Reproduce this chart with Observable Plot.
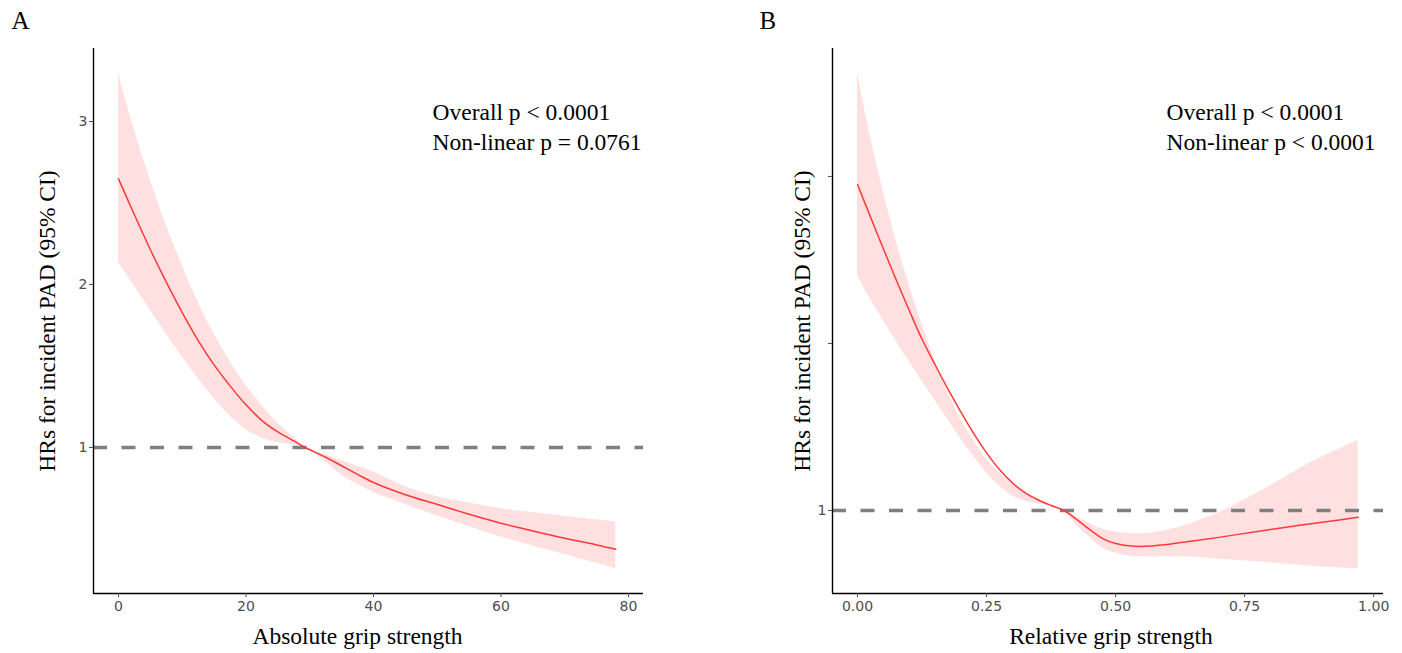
<!DOCTYPE html>
<html><head><meta charset="utf-8">
<script src="https://cdn.jsdelivr.net/npm/d3@7"></script>
<script src="https://cdn.jsdelivr.net/npm/@observablehq/plot@0.6"></script>
<style>
body{margin:0;background:#fff;}
#wrap{display:flex;width:1402px;height:653px;overflow:hidden;}
</style></head><body><div id="wrap"></div>
<script>
// Panel A: absolute grip strength
const absX  = [0,2.5,5,7.5,10,12.5,15,17.5,20,22.5,25,27.5,29.3,32.5,35,37.5,40,45,50,55,60,65,70,75,78];
const absHR = [2.648,2.428,2.213,2.014,1.827,1.656,1.507,1.378,1.262,1.165,1.095,1.04,1.0,0.94,0.888,0.835,0.785,0.71,0.65,0.59,0.535,0.488,0.443,0.402,0.375];
const absHi = [3.293,2.947,2.640,2.361,2.115,1.889,1.694,1.528,1.380,1.258,1.150,1.062,1.0,0.955,0.918,0.885,0.849,0.76,0.697,0.66,0.624,0.601,0.578,0.556,0.542];
const absLo = [2.137,1.989,1.842,1.695,1.557,1.423,1.301,1.193,1.110,1.058,1.030,1.016,1.0,0.912,0.83,0.775,0.726,0.65,0.58,0.515,0.45,0.396,0.343,0.289,0.256];
const absTicksX = [0,20,40,60,80];
const absTicksY = [1,2,3];
const absTickLabelsY = ["1","2","3"];

// Panel B: relative grip strength
const relX  = [0,0.025,0.05,0.075,0.1,0.125,0.15,0.175,0.2,0.225,0.25,0.275,0.3,0.325,0.35,0.375,0.4,0.425,0.45,0.475,0.5,0.525,0.55,0.6,0.65,0.7,0.75,0.8,0.85,0.9,0.97];
const relHR = [2.952,2.758,2.567,2.38,2.199,2.025,1.874,1.728,1.591,1.462,1.345,1.245,1.165,1.105,1.063,1.03,1.0,0.945,0.885,0.832,0.802,0.789,0.785,0.797,0.817,0.839,0.863,0.886,0.909,0.929,0.960];
const relHi = [3.615,3.238,2.909,2.614,2.351,2.116,1.898,1.71,1.544,1.419,1.304,1.227,1.154,1.11,1.067,1.034,1.0,0.961,0.922,0.887,0.871,0.862,0.86,0.882,0.927,0.986,1.064,1.148,1.24,1.32,1.419];
const relLo = [2.407,2.264,2.138,2.013,1.892,1.776,1.66,1.543,1.43,1.324,1.224,1.147,1.087,1.055,1.041,1.025,0.995,0.91,0.838,0.775,0.744,0.728,0.722,0.723,0.72,0.709,0.698,0.686,0.673,0.662,0.651];
const relTicksX = [0,0.25,0.5,0.75,1];
const relTicksY = [1,2,3];
const relTickLabelsY = ["1","",""];

const refHR = 1;
const yTitle = "HRs for incident PAD (95% CI)";
const serif = "'Liberation Serif','Times New Roman',serif";
const sans = "'DejaVu Sans','Liberation Sans',sans-serif";

function panel(o) {
  const data = o.xs.map((x, i) => ({x, hr: o.hr[i], lo: o.lo[i], hi: o.hi[i]}));
  const labelMap = new Map(o.yTicks.map((t, i) => [t, o.yLabels[i]]));
  return Plot.plot({
    width: 701, height: 653,
    marginLeft: o.ml, marginRight: o.mr, marginTop: 48, marginBottom: 60,
    style: {fontFamily: sans, fontSize: "14px", background: "#fff", overflow: "visible"},
    x: {domain: o.xDomain},
    y: {domain: o.yDomain},
    marks: [
      Plot.areaY(data, {x: "x", y1: "lo", y2: "hi", fill: "#ffe0e0", curve: "catmull-rom"}),
      Plot.ruleY([refHR], {stroke: "#7f7f7f", strokeWidth: 3.5, strokeDasharray: "14,14.5"}),
      Plot.line(data, {x: "x", y: "hr", stroke: "#ff3838", strokeWidth: 1.5, curve: "catmull-rom"}),
      Plot.ruleX([o.xDomain[0]], {stroke: "#000", strokeWidth: 1.4}),
      Plot.ruleY([o.yDomain[0]], {stroke: "#000", strokeWidth: 1.4}),
      Plot.axisX({ticks: o.xTicks, tickFormat: o.xFmt, tickSize: 4, tickPadding: 4, fontSize: 14, fontFamily: sans, color: "#4d4d4d", label: null}),
      Plot.axisY({ticks: o.yTicks, tickFormat: d => labelMap.get(d), tickSize: 4, tickPadding: 2, fontSize: 14, fontFamily: sans, color: "#4d4d4d", label: null}),
      Plot.text([o.letter], {frameAnchor: "top-left", dx: o.letterDx, dy: -28, textAnchor: "start", lineAnchor: "middle", fontSize: 25, fontFamily: serif, fill: "#000"}),
      Plot.text([o.notes[0]], {frameAnchor: "top-left", dx: o.noteDx, dy: 64, textAnchor: "start", lineAnchor: "middle", fontSize: 23.5, fontFamily: serif, fill: "#000"}),
      Plot.text([o.notes[1]], {frameAnchor: "top-left", dx: o.noteDx, dy: 94, textAnchor: "start", lineAnchor: "middle", fontSize: 23.5, fontFamily: serif, fill: "#000"}),
      Plot.text([yTitle], {frameAnchor: "left", dx: o.yTitleDx, rotate: -90, textAnchor: "middle", lineAnchor: "middle", fontSize: 23.5, fontFamily: serif, fill: "#000"}),
      Plot.text([o.xTitle], {frameAnchor: "bottom", dx: o.xTitleDx, dy: 43, textAnchor: "middle", lineAnchor: "middle", fontSize: 23.5, fontFamily: serif, fill: "#000"})
    ]
  });
}

const wrap = document.getElementById("wrap");
wrap.append(panel({
  xs: absX, hr: absHR, lo: absLo, hi: absHi,
  xDomain: [-3.92, 82.35], yDomain: [0.104, 3.448],
  xTicks: absTicksX, xFmt: d => String(d),
  yTicks: absTicksY, yLabels: absTickLabelsY,
  ml: 93, mr: 58, letter: "A", letterDx: -82, noteDx: 339,
  notes: ["Overall p < 0.0001", "Non-linear p = 0.0761"],
  yTitleDx: -46, xTitle: "Absolute grip strength", xTitleDx: -11
}));
wrap.append(panel({
  xs: relX, hr: relHR, lo: relLo, hi: relHi,
  xDomain: [-0.0485, 1.019], yDomain: [0.503, 3.766],
  xTicks: relTicksX, xFmt: d3.format(".2f"),
  yTicks: relTicksY, yLabels: relTickLabelsY,
  ml: 131, mr: 19, letter: "B", letterDx: -73, noteDx: 334,
  notes: ["Overall p < 0.0001", "Non-linear p < 0.0001"],
  yTitleDx: -30, xTitle: "Relative grip strength", xTitleDx: 3
}));
</script></body></html>
